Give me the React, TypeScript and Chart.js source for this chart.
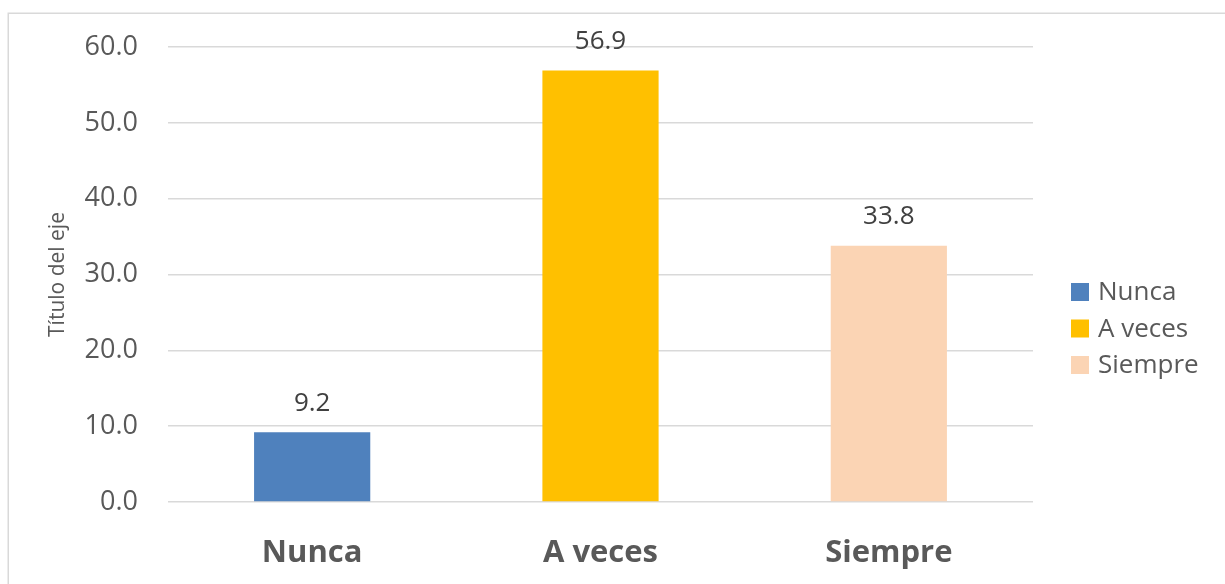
import React, { useEffect, useRef } from "react";
import { Chart, registerables } from "chart.js";

Chart.register(...registerables);

const categories = ["Nunca", "A veces", "Siempre"];
const values = [9.2, 56.9, 33.8];
const barColors = ["#4F81BD", "#FFC000", "#FBD4B4"];
const yTicks = [0, 10, 20, 30, 40, 50, 60];

const FONT = "'Open Sans', 'Noto Sans', sans-serif";
const TEXT = "#595959";

// White background and the thin outer frame of the chart
const frame = {
  id: "frame",
  beforeDraw(chart: any) {
    const ctx = chart.ctx;
    ctx.save();
    ctx.fillStyle = "#ffffff";
    ctx.fillRect(0, 0, chart.width, chart.height);
    ctx.strokeStyle = "#d9d9d9";
    ctx.lineWidth = 1.5;
    ctx.strokeRect(8.25, 13.25, chart.width + 20, chart.height + 20);
    ctx.restore();
  },
};

// Value printed above each bar
const valueLabels = {
  id: "valueLabels",
  afterDatasetsDraw(chart: any) {
    const ctx = chart.ctx;
    const meta = chart.getDatasetMeta(0);
    ctx.save();
    ctx.font = `26px ${FONT}`;
    ctx.fillStyle = "#404040";
    ctx.textAlign = "center";
    ctx.textBaseline = "middle";
    meta.data.forEach((bar: any, i: number) => {
      ctx.fillText(values[i].toFixed(1), bar.x, bar.y - 29);
    });
    ctx.restore();
  },
};

// Legend on the right: one swatch per category
const sideLegend = {
  id: "sideLegend",
  afterDraw(chart: any) {
    const ctx = chart.ctx;
    const area = chart.chartArea;
    const boxX = area.right + 38;
    const rowGap = 36.5;
    const midY = (area.top + area.bottom) / 2 + 54;
    ctx.save();
    ctx.font = `26px ${FONT}`;
    ctx.textBaseline = "middle";
    ctx.textAlign = "left";
    categories.forEach((c, i) => {
      const y = midY + (i - 1) * rowGap;
      ctx.fillStyle = barColors[i];
      ctx.fillRect(boxX, y - 9, 18, 18);
      ctx.fillStyle = TEXT;
      ctx.fillText(c, boxX + 27, y + 1);
    });
    ctx.restore();
  },
};

export default function App() {
  const ref = useRef<HTMLCanvasElement | null>(null);

  useEffect(() => {
    if (!ref.current) return;
    const chart = new Chart(ref.current, {
      type: "bar",
      data: {
        labels: categories,
        datasets: [
          {
            data: values,
            backgroundColor: barColors,
            borderWidth: 0,
            categoryPercentage: 1,
            barPercentage: 0.403,
          },
        ],
      },
      options: {
        responsive: false,
        animation: false,
        layout: { padding: { top: 47, right: 192, left: 0, bottom: 0 } },
        plugins: {
          tooltip: { enabled: false },
          legend: { display: false },
        },
        scales: {
          x: {
            grid: { display: false, drawTicks: false },
            border: { display: false },
            ticks: {
              color: TEXT,
              font: { family: FONT, size: 31, weight: "bold" },
              padding: 33,
            },
            afterFit: (s: any) => {
              s.height = 82;
            },
          },
          y: {
            min: 0,
            max: 60,
            afterBuildTicks: (s: any) => {
              s.ticks = yTicks.map((v) => ({ value: v }));
            },
            grid: { color: "#d9d9d9", lineWidth: 1.5, drawTicks: false },
            border: { display: false },
            ticks: {
              color: TEXT,
              font: { family: FONT, size: 27 },
              padding: 30,
              callback: (v: any) => Number(v).toFixed(1),
            },
            title: {
              display: true,
              text: "Título del eje",
              color: TEXT,
              font: { family: FONT, size: 21 },
              padding: { top: 45, bottom: 0 },
            },
            afterFit: (s: any) => {
              s.width = 168;
            },
          },
        },
      },
      plugins: [frame, valueLabels, sideLegend],
    });
    return () => chart.destroy();
  }, []);

  return (
    <div style={{ position: "fixed", left: 0, top: 0, width: 1225, height: 584 }}>
      <canvas ref={ref} width={1225} height={584} />
    </div>
  );
}
